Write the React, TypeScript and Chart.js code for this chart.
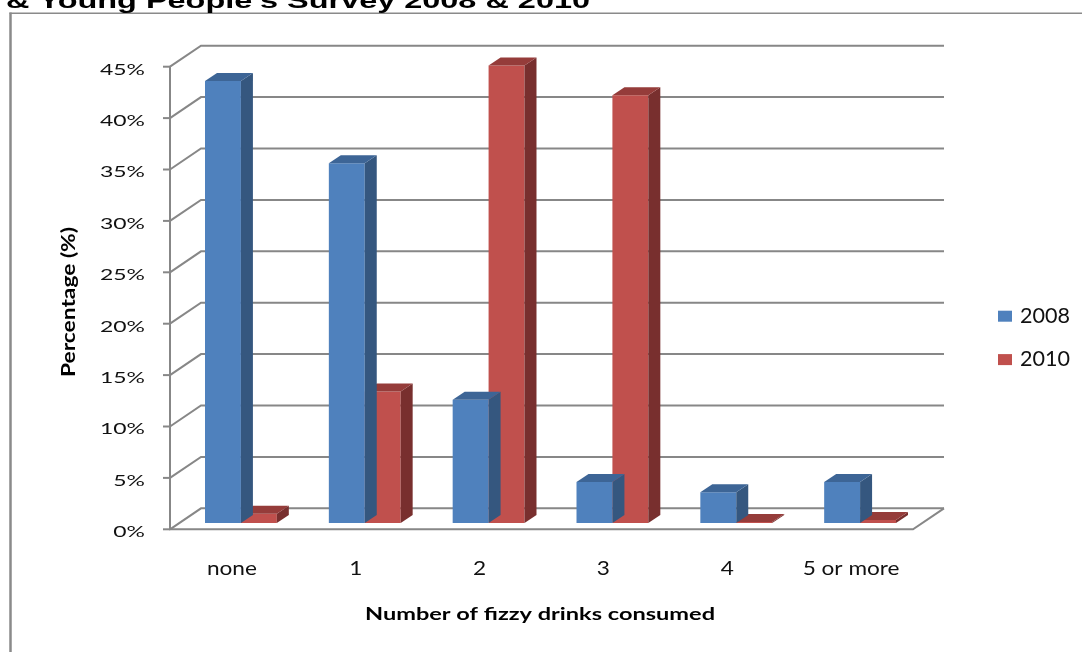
import { useEffect, useRef } from "react";
import { Chart, registerables } from "chart.js";

Chart.register(...registerables);

// ---------- data ----------
const categories = ["none", "1", "2", "3", "4", "5 or more"];
const seriesLabels = ["2008", "2010"];
const values2008 = [43, 35, 12, 4, 3, 4];
const values2010 = [0.9, 12.8, 44.5, 41.6, 0.1, 0.3];
const yTickValues = [0, 5, 10, 15, 20, 25, 30, 35, 40, 45];
const yTickLabels = yTickValues.map((v) => v + "%");
const titleText = "& Young People's Survey 2008 & 2010";
const xAxisTitle = "Number of fizzy drinks consumed";
const yAxisTitle = "Percentage (%)";

// ---------- style ----------
const W = 1082;
const H = 652;
const FRONT = ["#4F81BD", "#C0504D"];
const SIDE = ["#35577F", "#782F2E"];
const TOP = ["#3D6596", "#953C3A"];
const GRID = "#878787";
const FONT = "Lato, 'Open Sans', sans-serif";

const PLOT_LEFT = 170;
const PLOT_RIGHT = 913;
const PLOT_TOP = 66.7;
const PLOT_BOTTOM = 529.3;
const WALL_DX = 31;
const WALL_DY = -21;
const BAR_DX = 9;
const BAR_DY = -6.3;
const SIDE_DX = 12;
const SIDE_DY = -8;

function stretchFor(ctx: CanvasRenderingContext2D, sample: string, font: string, target: number) {
  ctx.save();
  ctx.font = font;
  const w = ctx.measureText(sample).width;
  ctx.restore();
  return w > 0 ? target / w : 1;
}

function drawText(
  ctx: CanvasRenderingContext2D,
  text: string,
  x: number,
  y: number,
  font: string,
  align: CanvasTextAlign,
  sx: number,
  color: string,
  rot = 0
) {
  ctx.save();
  ctx.font = font;
  ctx.fillStyle = color;
  ctx.textAlign = align;
  ctx.textBaseline = "alphabetic";
  ctx.translate(x, y);
  if (rot) ctx.rotate(rot);
  ctx.scale(sx, 1);
  ctx.fillText(text, 0, 0);
  ctx.restore();
}

const threeDPlugin = {
  id: "threeD",
  beforeDraw(chart: any) {
    const ctx: CanvasRenderingContext2D = chart.ctx;
    const ys = chart.scales.y;
    const L = chart.chartArea.left;
    const R = chart.chartArea.right;
    ctx.save();
    ctx.fillStyle = "#ffffff";
    ctx.fillRect(0, 0, W, H);

    // outer frame
    ctx.strokeStyle = "#8a8a8a";
    ctx.lineWidth = 2.5;
    ctx.beginPath();
    ctx.moveTo(10.5, 12.5);
    ctx.lineTo(10.5, H);
    ctx.stroke();
    ctx.lineWidth = 1.5;
    ctx.beginPath();
    ctx.moveTo(9.5, 13.2);
    ctx.lineTo(W, 13.2);
    ctx.stroke();

    // walls, grid
    ctx.strokeStyle = GRID;
    ctx.lineWidth = 2;
    for (const v of yTickValues) {
      const py = ys.getPixelForValue(v);
      ctx.beginPath();
      ctx.moveTo(L, py);
      ctx.lineTo(L + WALL_DX, py + WALL_DY);
      ctx.lineTo(R + WALL_DX, py + WALL_DY);
      ctx.stroke();
      ctx.beginPath();
      ctx.moveTo(L - 7, py);
      ctx.lineTo(L, py);
      ctx.stroke();
    }
    const p0 = ys.getPixelForValue(yTickValues[0]);
    const pTop = ys.getPixelForValue(yTickValues[yTickValues.length - 1]);
    ctx.beginPath();
    ctx.moveTo(L, pTop);
    ctx.lineTo(L, p0);
    ctx.lineTo(R, p0);
    ctx.lineTo(R + WALL_DX, p0 + WALL_DY);
    ctx.stroke();
    ctx.restore();
  },
  beforeDatasetDraw(chart: any) {
    chart.ctx.save();
    chart.ctx.translate(BAR_DX, BAR_DY);
  },
  afterDatasetDraw(chart: any, args: any) {
    const ctx: CanvasRenderingContext2D = chart.ctx;
    const i = args.index;
    const meta = args.meta;
    for (const el of meta.data) {
      const p = el.getProps(["x", "y", "base", "width"], true);
      const left = p.x - p.width / 2;
      const right = p.x + p.width / 2;
      const top = Math.min(p.y, p.base);
      const base = Math.max(p.y, p.base);
      ctx.fillStyle = SIDE[i];
      ctx.beginPath();
      ctx.moveTo(right, top);
      ctx.lineTo(right + SIDE_DX, top + SIDE_DY);
      ctx.lineTo(right + SIDE_DX, base + SIDE_DY);
      ctx.lineTo(right, base);
      ctx.closePath();
      ctx.fill();
      ctx.fillStyle = TOP[i];
      ctx.beginPath();
      ctx.moveTo(left, top);
      ctx.lineTo(left + SIDE_DX, top + SIDE_DY);
      ctx.lineTo(right + SIDE_DX, top + SIDE_DY);
      ctx.lineTo(right, top);
      ctx.closePath();
      ctx.fill();
    }
    ctx.restore();
  },
  afterDraw(chart: any) {
    const ctx: CanvasRenderingContext2D = chart.ctx;
    const ys = chart.scales.y;
    const xs = chart.scales.x;
    const L = chart.chartArea.left;

    // title (clipped at top)
    const titleFont = `bold 22px 'Liberation Sans', Arial, sans-serif`;
    drawText(ctx, titleText, 6, 8, titleFont, "left", stretchFor(ctx, titleText, titleFont, 584), "#000");

    // y tick labels
    const tickFont = `16px ${FONT}`;
    const tsx = stretchFor(ctx, "45%", tickFont, 45);
    yTickValues.forEach((v, k) => {
      const py = ys.getPixelForValue(v);
      drawText(ctx, yTickLabels[k], L - 25, py + 7.8, tickFont, "right", tsx, "#111");
    });

    // x labels
    const xFont = `18.5px ${FONT}`;
    const xsx = stretchFor(ctx, "none", xFont, 50);
    categories.forEach((c, k) => {
      drawText(ctx, c, xs.getPixelForValue(k), 575, xFont, "center", xsx, "#111");
    });

    // axis titles
    const xtFont = `bold 16.7px ${FONT}`;
    drawText(ctx, xAxisTitle, 540, 620, xtFont, "center", stretchFor(ctx, xAxisTitle, xtFont, 350), "#000");
    const ytFont = `bold 18px ${FONT}`;
    drawText(ctx, yAxisTitle, 75, 302, ytFont, "center", stretchFor(ctx, yAxisTitle, ytFont, 150), "#000", -Math.PI / 2);

    // legend
    const lgFont = `20.8px ${FONT}`;
    const lsx = stretchFor(ctx, "2008", lgFont, 50);
    seriesLabels.forEach((s, k) => {
      const top = 310.7 + k * 43.4;
      ctx.fillStyle = FRONT[k];
      ctx.fillRect(998, top, 14, 11);
      drawText(ctx, s, 1020, top + 12, lgFont, "left", lsx, "#111");
    });
  },
};

export default function App() {
  const ref = useRef<HTMLCanvasElement | null>(null);
  useEffect(() => {
    if (!ref.current) return;
    const chart = new Chart(ref.current, {
      type: "bar",
      data: {
        labels: categories,
        datasets: [
          {
            label: seriesLabels[0],
            data: values2008,
            backgroundColor: FRONT[0],
            borderWidth: 0,
            categoryPercentage: 0.58,
            barPercentage: 1,
            clip: false,
          } as any,
          {
            label: seriesLabels[1],
            data: values2010,
            backgroundColor: FRONT[1],
            borderWidth: 0,
            categoryPercentage: 0.58,
            barPercentage: 1,
            clip: false,
          } as any,
        ],
      },
      options: {
        responsive: false,
        animation: false,
        events: [],
        layout: {
          padding: {
            left: PLOT_LEFT,
            right: W - PLOT_RIGHT,
            top: PLOT_TOP,
            bottom: H - PLOT_BOTTOM,
          },
        },
        scales: {
          x: { display: false },
          y: { display: false, min: 0, max: 45 },
        },
        plugins: {
          legend: { display: false },
          tooltip: { enabled: false },
          title: { display: false },
        },
      },
      plugins: [threeDPlugin],
    });
    return () => chart.destroy();
  }, []);
  return (
    <div style={{ position: "absolute", left: 0, top: 0, width: W, height: H }}>
      <canvas ref={ref} width={W} height={H} style={{ width: W, height: H, display: "block" }} />
    </div>
  );
}
